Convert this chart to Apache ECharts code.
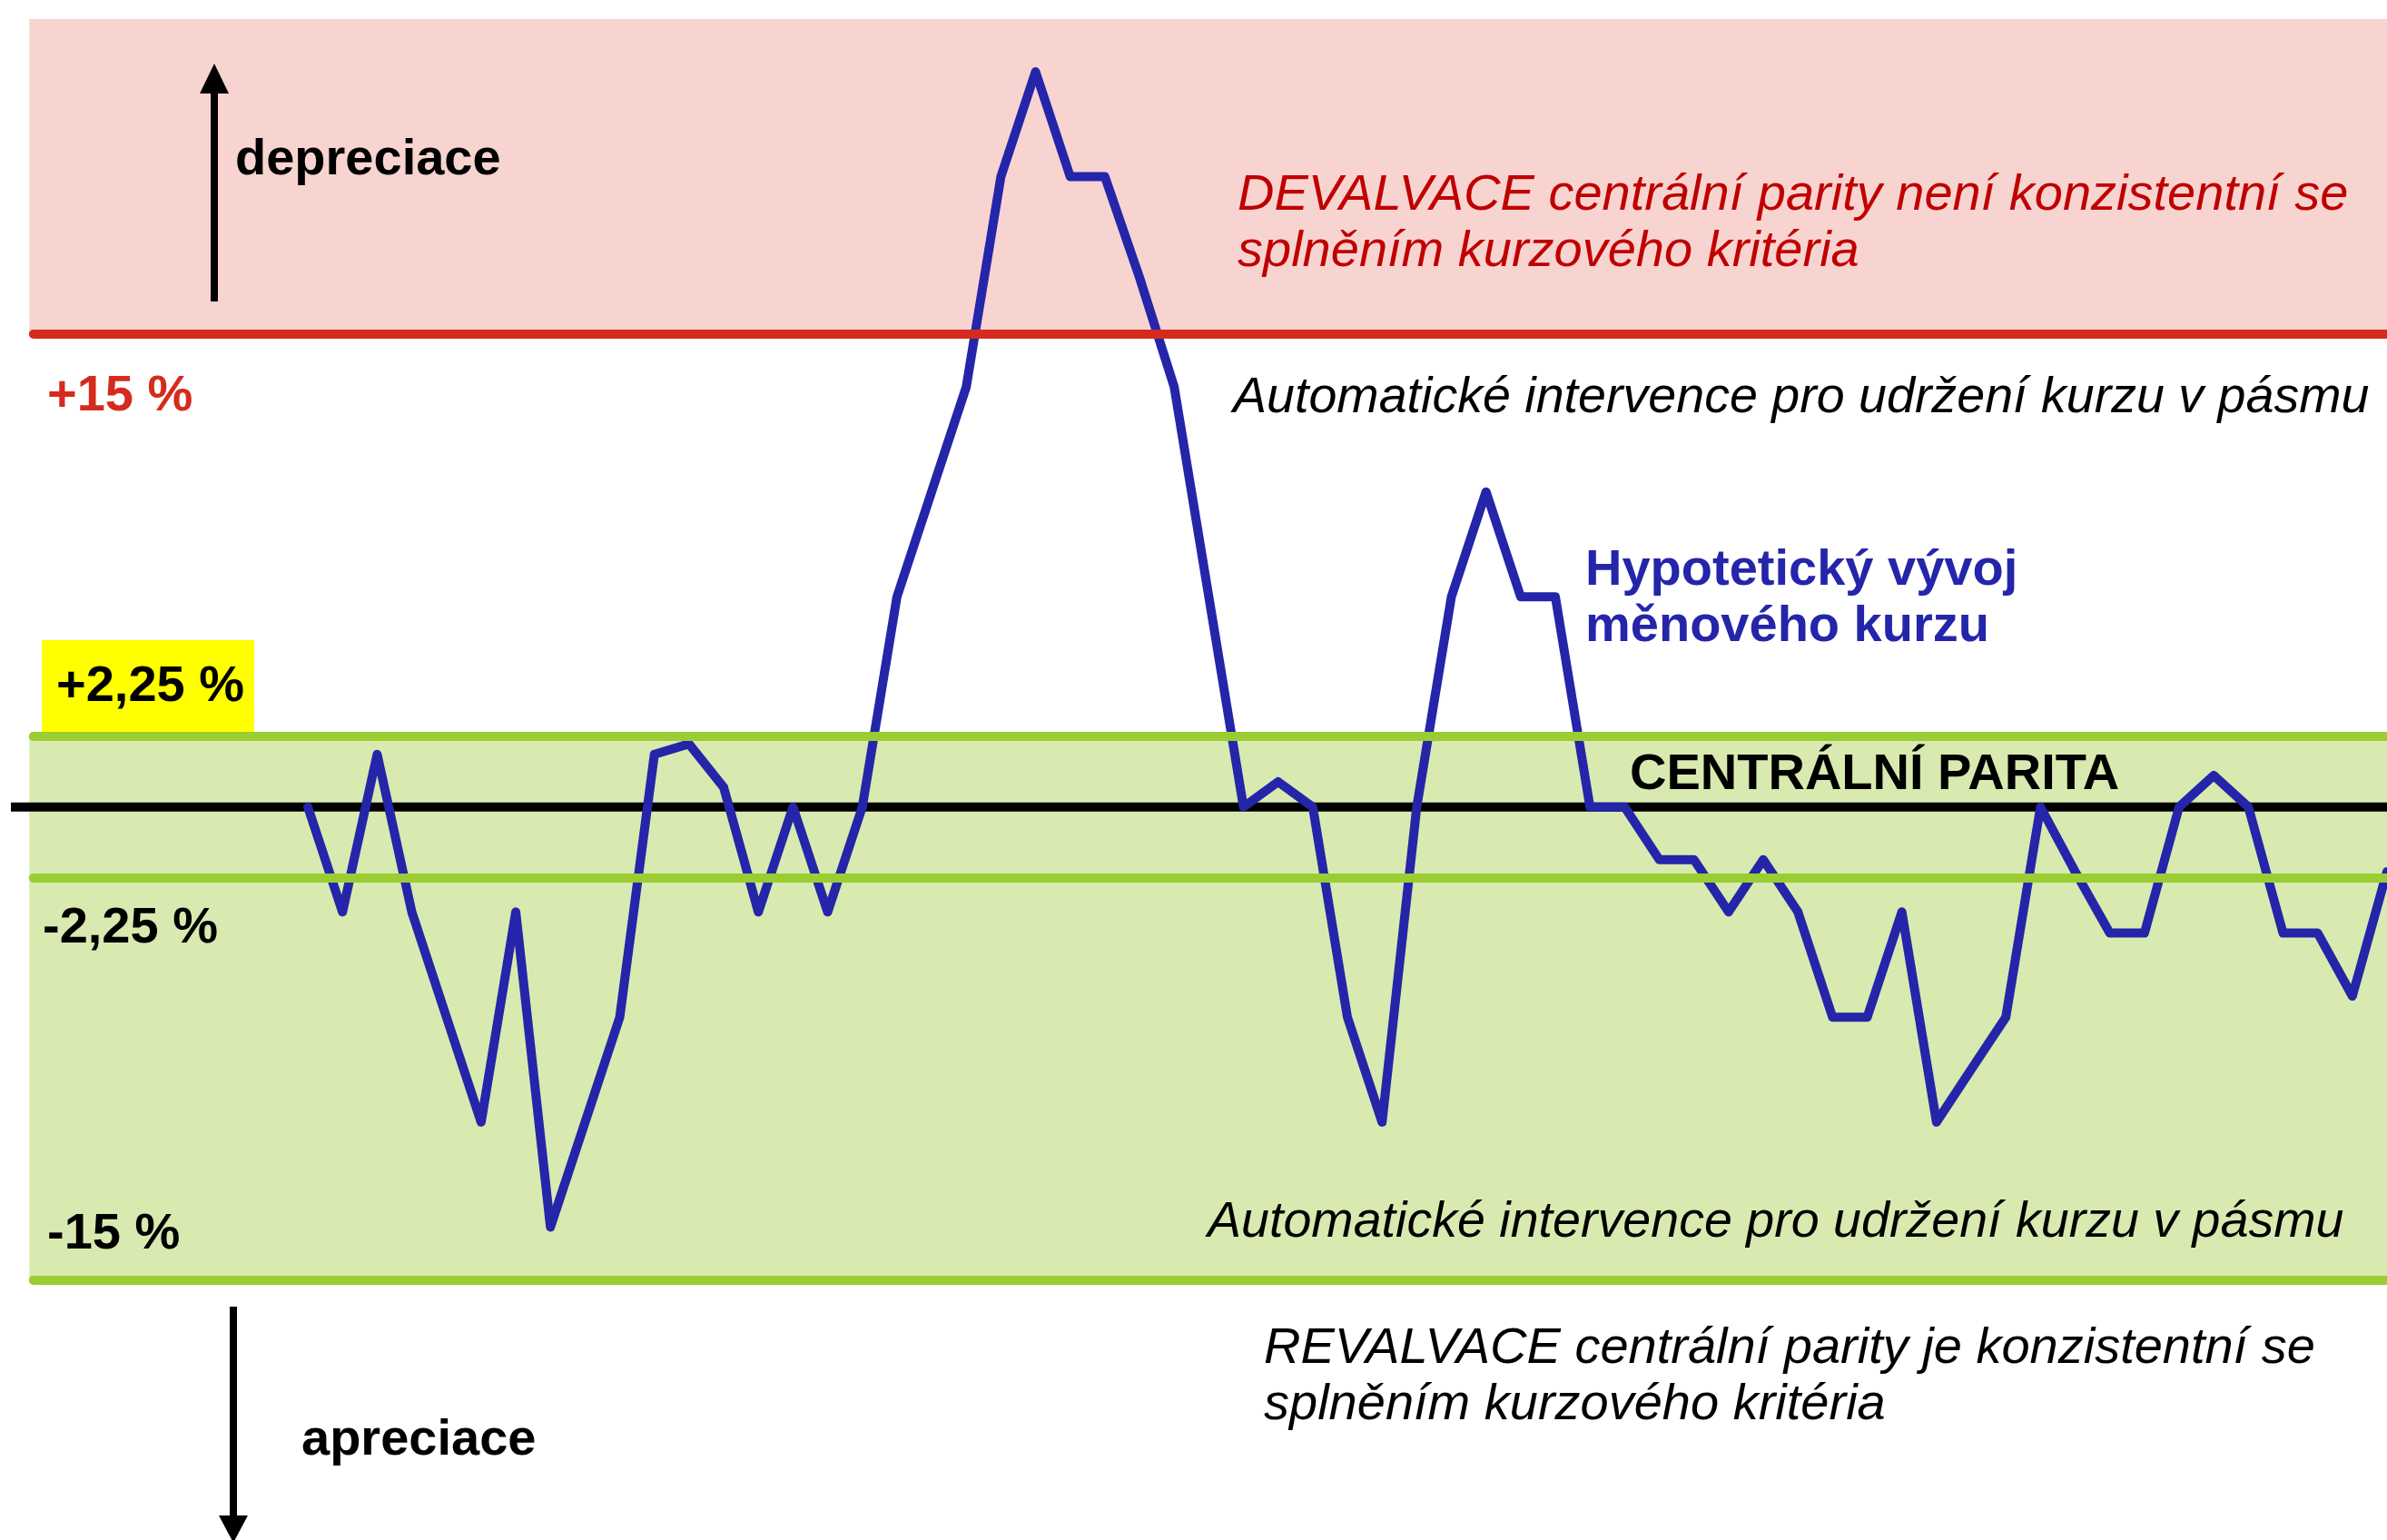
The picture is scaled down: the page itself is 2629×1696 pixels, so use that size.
<!DOCTYPE html>
<html>
<head>
<meta charset="utf-8">
<title>Kurzové kritérium</title>
<script src="https://cdn.jsdelivr.net/npm/echarts@6/dist/echarts.min.js"></script>
<style>
  html, body { margin: 0; padding: 0; background: #fff; }
  #box { width: 2629px; height: 1696px; }
</style>
</head>
<body>
<div id="box"></div>
<script>
// období (osa x) a hypotetický vývoj kurzu v % od centrální parity
const obdobi = [0, 1, 2, 3, 4, 5, 6, 7, 8, 9, 10, 11, 12, 13, 14, 15, 16, 17, 18, 19,
  20, 21, 22, 23, 24, 25, 26, 27, 28, 29, 30, 31, 32, 33, 34, 35, 36, 37, 38, 39,
  40, 41, 42, 43, 44, 45, 46, 47, 48, 49, 50, 51, 52, 53, 54, 55, 56, 57, 58, 59, 60]
const kurz = [0, -3.33, 1.67, -3.33, -6.67, -10, -3.33, -13.33, -10, -6.67,
  1.67, 2.0, 0.62, -3.33, 0, -3.33, 0, 6.67, 10, 13.33,
  20, 23.33, 20, 20, 16.8, 13.33, 6.67, 0, 0.8, 0,
  -6.67, -10, 0, 6.67, 10, 6.67, 6.67, 0, 0, -1.67,
  -1.67, -3.33, -1.67, -3.33, -6.67, -6.67, -3.33, -10, -8.33, -6.67,
  0, -2.05, -4.0, -4.0, 0, 1.0, 0, -4.0, -4.0, -6.0, -2.05]

// hranice fluktuačních pásem
const pasmoSiroke = [-15, 15]
const pasmoUzke = [-2.25, 2.25]
const parita = 0
const popiskyUrovni = ['+15 %', '+2,25 %', '-2,25 %', '-15 %']

const xMin = -8.57
const xMax = 60
const xPasmo = -8.04
const yMin = -23.2
const yMax = 25

const font = "'Liberation Sans', Arial, Helvetica, sans-serif"
const cervena = '#D52B1E'
const zelena = '#9ACD32'
const modra = '#2525AA'

const chart = echarts.init(document.getElementById('box'))

const hranice = (y, color) => [
  { coord: [xPasmo + 0.12, y], lineStyle: { color } },
  { coord: [xMax, y] }
]

const text = (x, y, s, opts) => ({
  type: 'text', x, y, z: 10,
  style: Object.assign({
    text: s, fontFamily: font, fontSize: 56, lineHeight: 62,
    align: 'left', verticalAlign: 'middle', fill: '#000'
  }, opts)
})

chart.setOption({
  animation: false,
  grid: { left: 12, right: 0, top: 21, bottom: 2 },
  xAxis: { type: 'value', min: xMin, max: xMax, show: false },
  yAxis: { type: 'value', min: yMin, max: yMax, show: false },
  series: [
    {
      name: 'pasma',
      type: 'line',
      data: [],
      silent: true,
      markArea: {
        silent: true,
        data: [
          [{ coord: [xPasmo, pasmoSiroke[1]], itemStyle: { color: '#F8D4D1' } }, { coord: [xMax, yMax] }],
          [{ coord: [xPasmo, pasmoSiroke[0]], itemStyle: { color: '#D8EAAF' } }, { coord: [xMax, pasmoUzke[1]] }]
        ]
      }
    },
    {
      name: 'parita',
      type: 'line',
      z: 2,
      silent: true,
      symbol: 'none',
      data: [[xMin, parita], [xMax, parita]],
      lineStyle: { color: '#000', width: 10, cap: 'butt' }
    },
    {
      name: 'Hypotetický vývoj měnového kurzu',
      type: 'line',
      z: 3,
      silent: true,
      symbol: 'none',
      data: obdobi.map((o, i) => [o, kurz[i]]),
      lineStyle: { color: modra, width: 10, cap: 'round', join: 'round' }
    },
    {
      name: 'hranice',
      type: 'line',
      data: [],
      silent: true,
      markLine: {
        silent: true,
        symbol: ['none', 'none'],
        label: { show: false },
        lineStyle: { width: 10, type: 'solid', cap: 'round' },
        data: [
          hranice(pasmoSiroke[1], cervena),
          hranice(pasmoUzke[1], zelena),
          hranice(pasmoUzke[0], zelena),
          hranice(pasmoSiroke[0], zelena)
        ]
      }
    }
  ],
  graphic: [
    // šipky
    { type: 'line', z: 10, shape: { x1: 236, y1: 100, x2: 236, y2: 332 }, style: { stroke: '#000', lineWidth: 8 } },
    { type: 'polygon', z: 10, shape: { points: [[236, 70], [220, 103], [252, 103]] }, style: { fill: '#000' } },
    { type: 'line', z: 10, shape: { x1: 257, y1: 1439, x2: 257, y2: 1672 }, style: { stroke: '#000', lineWidth: 8 } },
    { type: 'polygon', z: 10, shape: { points: [[241, 1669], [273, 1669], [257, 1699]] }, style: { fill: '#000' } },
    text(259, 177, 'depreciace', { fontWeight: 'bold' }),
    text(332, 1587, 'apreciace', { fontWeight: 'bold' }),
    // popisky úrovní
    { type: 'rect', z: 4, shape: { x: 46, y: 705, width: 234, height: 102 }, style: { fill: '#FFFF00' } },
    text(52, 437, popiskyUrovni[0], { fontWeight: 'bold', fill: cervena }),
    text(62, 757, popiskyUrovni[1], { fontWeight: 'bold' }),
    text(47, 1023, popiskyUrovni[2], { fontWeight: 'bold' }),
    text(52, 1360, popiskyUrovni[3], { fontWeight: 'bold' }),
    // komentáře
    text(1363, 246, 'DEVALVACE centrální parity není konzistentní se\nsplněním kurzového kritéria', { fontStyle: 'italic', fill: '#C00000' }),
    text(1358, 439, 'Automatické intervence pro udržení kurzu v pásmu', { fontStyle: 'italic', fontSize: 55.6 }),
    text(1746, 660, 'Hypotetický vývoj\nměnového kurzu', { fontWeight: 'bold', fill: modra }),
    text(1795, 854, 'CENTRÁLNÍ PARITA', { fontWeight: 'bold' }),
    text(1330, 1347, 'Automatické intervence pro udržení kurzu v pásmu', { fontStyle: 'italic', fontSize: 55.6 }),
    text(1392, 1516, 'REVALVACE centrální parity je konzistentní se\nsplněním kurzového kritéria', { fontStyle: 'italic' })
  ]
})
</script>
</body>
</html>
